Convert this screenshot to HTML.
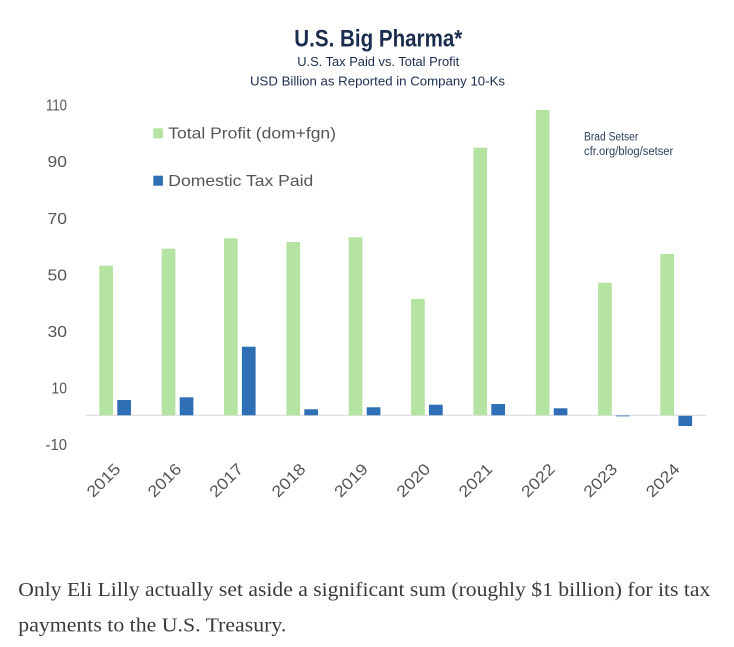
<!DOCTYPE html>
<html>
<head>
<meta charset="utf-8">
<style>
  html,body{margin:0;padding:0;background:#fff;}
  svg{display:block;}
  .sans{font-family:"Liberation Sans",sans-serif;}
  .serif{font-family:"Liberation Serif",serif;}
</style>
</head>
<body>
<svg width="734" height="647" viewBox="0 0 734 647" xmlns="http://www.w3.org/2000/svg">
  <rect x="0" y="0" width="734" height="647" fill="#ffffff"/>

  <!-- Title -->
  <text class="sans" x="378.3" y="46.7" text-anchor="middle" font-size="24" font-weight="bold" fill="#1b2d4f" textLength="168" lengthAdjust="spacingAndGlyphs">U.S. Big Pharma*</text>
  <text class="sans" x="378.2" y="65.9" text-anchor="middle" font-size="13" fill="#1b2d4f" textLength="162" lengthAdjust="spacingAndGlyphs">U.S. Tax Paid vs. Total Profit</text>
  <text class="sans" x="377.5" y="85.5" text-anchor="middle" font-size="13" fill="#1b2d4f" textLength="255" lengthAdjust="spacingAndGlyphs">USD Billion as Reported in Company 10-Ks</text>

  <!-- Y axis labels -->
  <g class="sans" font-size="16" fill="#555" text-anchor="end">
    <text x="67" y="110.7" textLength="21" lengthAdjust="spacingAndGlyphs">110</text>
    <text x="67" y="167.2" textLength="19.5" lengthAdjust="spacingAndGlyphs">90</text>
    <text x="67" y="223.8" textLength="19.5" lengthAdjust="spacingAndGlyphs">70</text>
    <text x="67" y="280.4" textLength="19.5" lengthAdjust="spacingAndGlyphs">50</text>
    <text x="67" y="337" textLength="19.5" lengthAdjust="spacingAndGlyphs">30</text>
    <text x="67" y="393.6" textLength="15.5" lengthAdjust="spacingAndGlyphs">10</text>
    <text x="67" y="450.2" textLength="21.5" lengthAdjust="spacingAndGlyphs">-10</text>
  </g>

  <!-- Legend -->
  <rect x="153.3" y="128.3" width="9.6" height="10" fill="#b5e3a1"/>
  <text class="sans" x="168.3" y="138.3" font-size="16" fill="#555" textLength="167.7" lengthAdjust="spacingAndGlyphs">Total Profit (dom+fgn)</text>
  <rect x="153.3" y="175.7" width="9.6" height="10" fill="#2f6fb5"/>
  <text class="sans" x="168.3" y="186" font-size="16" fill="#555" textLength="145" lengthAdjust="spacingAndGlyphs">Domestic Tax Paid</text>

  <!-- Source -->
  <text class="sans" x="584" y="140.7" font-size="11.5" fill="#2c3e5c" textLength="54.3" lengthAdjust="spacingAndGlyphs">Brad Setser</text>
  <text class="sans" x="584" y="154.8" font-size="11.5" fill="#2c3e5c" textLength="89.3" lengthAdjust="spacingAndGlyphs">cfr.org/blog/setser</text>

  <!-- Zero line -->
  <line x1="85" y1="415.3" x2="707" y2="415.3" stroke="#dddddd" stroke-width="1.2"/>

  <!-- Green bars (Total Profit) -->
  <g fill="#b5e3a1">
    <rect x="99.3"  y="265.7" width="13.7" height="149.6"/>
    <rect x="161.7" y="248.7" width="13.7" height="166.6"/>
    <rect x="224.0" y="238.3" width="13.7" height="177.0"/>
    <rect x="286.4" y="242.0" width="13.7" height="173.3"/>
    <rect x="348.7" y="237.3" width="13.7" height="178.0"/>
    <rect x="411.1" y="299.0" width="13.7" height="116.3"/>
    <rect x="473.4" y="147.7" width="13.7" height="267.6"/>
    <rect x="535.8" y="110.0" width="13.7" height="305.3"/>
    <rect x="598.1" y="282.7" width="13.7" height="132.6"/>
    <rect x="660.3" y="254.0" width="13.7" height="161.3"/>
  </g>

  <!-- Blue bars (Domestic Tax Paid) -->
  <g fill="#2f6fb5">
    <rect x="117.3" y="400.0" width="13.7" height="15.3"/>
    <rect x="179.7" y="397.3" width="13.7" height="18.0"/>
    <rect x="241.9" y="346.7" width="13.7" height="68.6"/>
    <rect x="304.3" y="409.3" width="13.7" height="6.0"/>
    <rect x="366.7" y="407.3" width="13.7" height="8.0"/>
    <rect x="429.0" y="404.7" width="13.7" height="10.6"/>
    <rect x="491.3" y="404.0" width="13.7" height="11.3"/>
    <rect x="553.7" y="408.3" width="13.7" height="7.0"/>
    <rect x="616.0" y="415.3" width="13.7" height="1.2" fill="#6f9bd0"/>
    <rect x="678.4" y="415.8" width="13.7" height="10.2"/>
  </g>

  <!-- X axis labels -->
  <g class="sans" font-size="16" fill="#555" text-anchor="end">
    <text x="121.5" y="470" transform="rotate(-45 121.5 470)" textLength="40" lengthAdjust="spacingAndGlyphs">2015</text>
    <text x="182.5" y="470" transform="rotate(-45 182.5 470)" textLength="40" lengthAdjust="spacingAndGlyphs">2016</text>
    <text x="244.2" y="470" transform="rotate(-45 244.2 470)" textLength="40" lengthAdjust="spacingAndGlyphs">2017</text>
    <text x="306.6" y="470" transform="rotate(-45 306.6 470)" textLength="40" lengthAdjust="spacingAndGlyphs">2018</text>
    <text x="369.0" y="470" transform="rotate(-45 369.0 470)" textLength="40" lengthAdjust="spacingAndGlyphs">2019</text>
    <text x="431.3" y="470" transform="rotate(-45 431.3 470)" textLength="40" lengthAdjust="spacingAndGlyphs">2020</text>
    <text x="493.6" y="470" transform="rotate(-45 493.6 470)" textLength="40" lengthAdjust="spacingAndGlyphs">2021</text>
    <text x="556.0" y="470" transform="rotate(-45 556.0 470)" textLength="40" lengthAdjust="spacingAndGlyphs">2022</text>
    <text x="618.3" y="470" transform="rotate(-45 618.3 470)" textLength="40" lengthAdjust="spacingAndGlyphs">2023</text>
    <text x="680.7" y="470" transform="rotate(-45 680.7 470)" textLength="40" lengthAdjust="spacingAndGlyphs">2024</text>
  </g>

  <!-- Paragraph -->
  <text class="serif" x="18.3" y="596" font-size="20" fill="#3a3a3a" textLength="692" lengthAdjust="spacingAndGlyphs">Only Eli Lilly actually set aside a significant sum (roughly $1 billion) for its tax</text>
  <text class="serif" x="18.3" y="631.7" font-size="20" fill="#3a3a3a" textLength="268" lengthAdjust="spacingAndGlyphs">payments to the U.S. Treasury.</text>
</svg>
</body>
</html>
